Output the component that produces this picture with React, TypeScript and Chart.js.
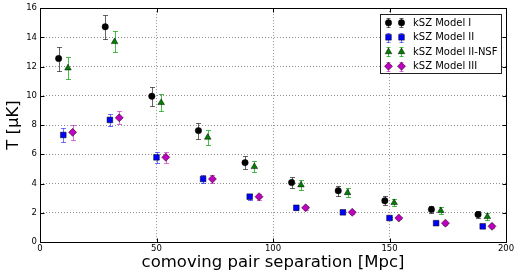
import React, { useEffect, useRef } from "react";
import { Chart, registerables } from "chart.js";

Chart.register(...registerables);

// ---- data ----
const xModelI = [8, 28, 48, 68, 88, 108, 128, 148, 168, 188];
const yModelI = [12.55, 14.72, 9.97, 7.62, 5.43, 4.07, 3.51, 2.82, 2.23, 1.88];
const eModelI = [0.82, 0.8, 0.64, 0.55, 0.46, 0.4, 0.35, 0.3, 0.25, 0.22];

const xModelII = [10, 30, 50, 70, 90, 110, 130, 150, 170, 190];
const yModelII = [7.32, 8.35, 5.79, 4.31, 3.1, 2.34, 2.03, 1.64, 1.29, 1.07];
const eModelII = [0.48, 0.43, 0.39, 0.28, 0.2, 0.15, 0.12, 0.1, 0.1, 0.08];

const xModelIINSF = [12, 32, 52, 72, 92, 112, 132, 152, 172, 192];
const yModelIINSF = [11.9, 13.7, 9.53, 7.16, 5.15, 3.9, 3.37, 2.69, 2.14, 1.73];
const eModelIINSF = [0.75, 0.72, 0.6, 0.5, 0.38, 0.34, 0.29, 0.26, 0.22, 0.22];

const xModelIII = [14, 34, 54, 74, 94, 114, 134, 154, 174, 194];
const yModelIII = [7.5, 8.5, 5.79, 4.31, 3.1, 2.34, 2.03, 1.64, 1.29, 1.07];
const eModelIII = [0.5, 0.45, 0.39, 0.28, 0.2, 0.15, 0.12, 0.1, 0.1, 0.08];

const seriesNames = ["kSZ Model I", "kSZ Model II", "kSZ Model II-NSF", "kSZ Model III"];
const xTicks = [0, 50, 100, 150, 200];
const yTicks = [0, 2, 4, 6, 8, 10, 12, 14, 16];
const xTitle = "comoving pair separation [Mpc]";
const yTitle = "T [\u03bcK]";

const FONT = "'DejaVu Sans', sans-serif";

type Series = {
  name: string;
  x: number[];
  y: number[];
  e: number[];
  color: string;
  errColor: string;
  style: string;
  radius: number;
};

const series: Series[] = [
  { name: seriesNames[0], x: xModelI, y: yModelI, e: eModelI, color: "#000000", errColor: "rgba(0,0,0,0.6)", style: "circle", radius: 3.2 },
  { name: seriesNames[1], x: xModelII, y: yModelII, e: eModelII, color: "#0000ff", errColor: "rgba(0,0,255,0.55)", style: "rect", radius: 4 },
  { name: seriesNames[2], x: xModelIINSF, y: yModelIINSF, e: eModelIINSF, color: "#008000", errColor: "rgba(0,160,0,0.7)", style: "triangle", radius: 3.8 },
  { name: seriesNames[3], x: xModelIII, y: yModelIII, e: eModelIII, color: "#bf00bf", errColor: "rgba(191,0,191,0.55)", style: "rectRot", radius: 4 },
];

function drawMarker(ctx: CanvasRenderingContext2D, style: string, x: number, y: number, r: number, color: string) {
  ctx.save();
  ctx.fillStyle = color;
  ctx.strokeStyle = "#000";
  ctx.lineWidth = 0.5;
  ctx.beginPath();
  if (style === "circle") {
    ctx.arc(x, y, r, 0, Math.PI * 2);
  } else if (style === "rect") {
    const s = r * Math.SQRT1_2;
    ctx.rect(x - s, y - s, 2 * s, 2 * s);
  } else if (style === "triangle") {
    for (let k = 0; k < 3; k++) {
      const a = -Math.PI / 2 + (k * 2 * Math.PI) / 3;
      const px = x + Math.cos(a) * r;
      const py = y + Math.sin(a) * r;
      if (k === 0) ctx.moveTo(px, py);
      else ctx.lineTo(px, py);
    }
    ctx.closePath();
  } else {
    ctx.moveTo(x, y - r);
    ctx.lineTo(x + r, y);
    ctx.lineTo(x, y + r);
    ctx.lineTo(x - r, y);
    ctx.closePath();
  }
  ctx.fill();
  ctx.stroke();
  ctx.restore();
}

function drawErr(ctx: CanvasRenderingContext2D, px: number, y1: number, y2: number, color: string, cap: number) {
  ctx.save();
  ctx.strokeStyle = color;
  ctx.lineWidth = 1;
  ctx.beginPath();
  ctx.moveTo(px, y1);
  ctx.lineTo(px, y2);
  ctx.moveTo(px - cap, y1);
  ctx.lineTo(px + cap, y1);
  ctx.moveTo(px - cap, y2);
  ctx.lineTo(px + cap, y2);
  ctx.stroke();
  ctx.restore();
}

const errorBarPlugin = {
  id: "errorBars",
  beforeDatasetsDraw(chart: any) {
    const { ctx, chartArea, scales } = chart;
    const xs = scales.x;
    const ys = scales.y;
    ctx.save();
    ctx.beginPath();
    ctx.rect(chartArea.left, chartArea.top, chartArea.right - chartArea.left, chartArea.bottom - chartArea.top);
    ctx.clip();
    series.forEach((s) => {
      s.x.forEach((xv, i) => {
        const px = Math.round(xs.getPixelForValue(xv)) + 0.5;
        const y1 = Math.round(ys.getPixelForValue(s.y[i] + s.e[i])) + 0.5;
        const y2 = Math.round(ys.getPixelForValue(s.y[i] - s.e[i])) + 0.5;
        drawErr(ctx, px, y1, y2, s.errColor, 2.5);
      });
    });
    ctx.restore();
  },
};

const framePlugin = {
  id: "frameLegend",
  afterDatasetsDraw(chart: any) {
    const { ctx, chartArea, scales } = chart;
    const xs = scales.x;
    const ys = scales.y;
    const L = Math.round(chartArea.left) + 0.5;
    const R = Math.round(chartArea.right) + 0.5;
    const T = Math.round(chartArea.top) + 0.5;
    const B = Math.round(chartArea.bottom) + 0.5;
    ctx.save();
    ctx.strokeStyle = "#000";
    ctx.lineWidth = 1;
    ctx.strokeRect(L, T, R - L, B - T);
    const tl = 4;
    ctx.beginPath();
    xTicks.forEach((v) => {
      const px = Math.round(xs.getPixelForValue(v)) + 0.5;
      ctx.moveTo(px, B);
      ctx.lineTo(px, B - tl);
      ctx.moveTo(px, T);
      ctx.lineTo(px, T + tl);
    });
    yTicks.forEach((v) => {
      const py = Math.round(ys.getPixelForValue(v)) + 0.5;
      ctx.moveTo(L, py);
      ctx.lineTo(L + tl, py);
      ctx.moveTo(R, py);
      ctx.lineTo(R - tl, py);
    });
    ctx.stroke();

    // legend
    const bw = 121;
    const bh = 59;
    const bx = Math.round(chartArea.right - 5 - bw) + 0.5;
    const by = Math.round(chartArea.top + 6) + 0.5;
    ctx.fillStyle = "#fff";
    ctx.fillRect(bx, by, bw, bh);
    ctx.strokeStyle = "#222";
    ctx.lineWidth = 1;
    ctx.strokeRect(bx, by, bw, bh);
    ctx.font = `10px ${FONT}`;
    ctx.textBaseline = "middle";
    ctx.textAlign = "left";
    series.forEach((s, i) => {
      const cy = by + 8.3 + i * 14.5;
      [7.7, 20.7].forEach((dx) => {
        const mx = Math.round(bx + dx) + 0.5;
        drawErr(ctx, mx, Math.round(cy - 4.5) + 0.5, Math.round(cy + 4.5) + 0.5, s.errColor, 2);
        drawMarker(ctx, s.style, mx, cy, s.radius, s.color);
      });
      ctx.fillStyle = "#000";
      ctx.fillText(s.name, bx + 32.5, cy + 0.5);
    });
    ctx.restore();
  },
};

export default function App() {
  const ref = useRef<HTMLCanvasElement | null>(null);
  useEffect(() => {
    if (!ref.current) return;
    const chart = new Chart(ref.current, {
      type: "scatter",
      data: {
        datasets: series.map((s) => ({
          label: s.name,
          data: s.x.map((xv, i) => ({ x: xv, y: s.y[i] })),
          pointStyle: s.style as any,
          pointRadius: s.radius,
          pointHoverRadius: s.radius,
          backgroundColor: s.color,
          borderColor: "#000",
          pointBorderWidth: 0.5,
          borderWidth: 0.5,
          showLine: false,
        })),
      },
      options: {
        responsive: false,
        animation: false,
        events: [],
        layout: { padding: { top: 8, right: 13, left: 0, bottom: 0 } },
        plugins: {
          legend: { display: false },
          tooltip: { enabled: false },
        },
        scales: {
          x: {
            type: "linear",
            min: 0,
            max: 200,
            afterFit: (sc: any) => {
              sc.height = 36;
            },
            afterBuildTicks: (sc: any) => {
              sc.ticks = xTicks.map((v) => ({ value: v }));
            },
            ticks: {
              padding: 2,
              color: "#000",
              font: { family: FONT, size: 8.5 },
              maxRotation: 0,
              callback: (v: any) => String(v),
            },
            grid: {
              drawTicks: false,
              color: (c: any) => (c.tick && (c.tick.value === 0 || c.tick.value === 200) ? "rgba(0,0,0,0)" : "rgba(0,0,0,0.55)"),
              lineWidth: 0.8,
            },
            border: { display: false, dash: [1, 2] },
            title: {
              display: true,
              text: xTitle,
              color: "#000",
              font: { family: FONT, size: 16.5 },
              padding: { top: 0, bottom: 5 },
            },
          },
          y: {
            type: "linear",
            min: 0,
            max: 16,
            afterFit: (sc: any) => {
              sc.width = 40;
            },
            afterBuildTicks: (sc: any) => {
              sc.ticks = yTicks.map((v) => ({ value: v }));
            },
            ticks: {
              padding: 3,
              color: "#000",
              font: { family: FONT, size: 8.5 },
              callback: (v: any) => String(v),
            },
            grid: {
              drawTicks: false,
              color: (c: any) => (c.tick && (c.tick.value === 0 || c.tick.value === 16) ? "rgba(0,0,0,0)" : "rgba(0,0,0,0.55)"),
              lineWidth: 0.8,
            },
            border: { display: false, dash: [1, 2] },
            title: {
              display: true,
              text: yTitle,
              color: "#000",
              font: { family: FONT, size: 16.5 },
              padding: { top: 4, bottom: 0 },
            },
          },
        },
      },
      plugins: [errorBarPlugin, framePlugin],
    } as any);
    return () => chart.destroy();
  }, []);
  return (
    <div style={{ position: "fixed", left: 0, top: 0, width: 519, height: 278, background: "#fff" }}>
      <canvas ref={ref} width={519} height={278} style={{ display: "block", width: 519, height: 278 }} />
    </div>
  );
}
